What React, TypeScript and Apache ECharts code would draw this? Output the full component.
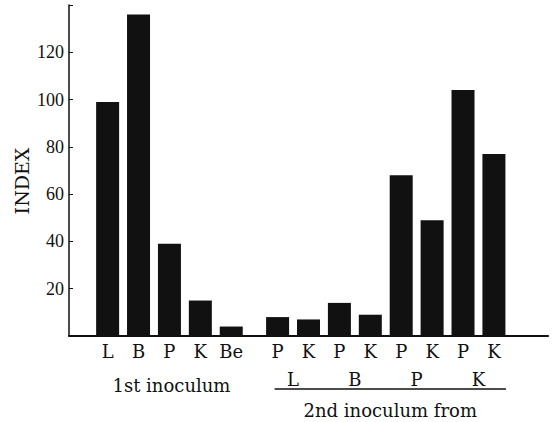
import React, { useEffect, useRef } from "react";
import * as echarts from "echarts";

// ---- data ----
const firstLabels = ["L", "B", "P", "K", "Be"];
const firstValues = [99, 136, 39, 15, 4];
const sourceGroups = ["L", "B", "P", "K"];
const pairLabels = ["P", "K"];
const secondValues = [
  [8, 7],
  [14, 9],
  [68, 49],
  [104, 77],
];
const yTickLabels = [20, 40, 60, 80, 100, 120];
const yMax = 140;
const yStep = 20;
const firstTitle = "1st inoculum";
const secondTitle = "2nd inoculum from";
const yTitle = "INDEX";

// ---- slot layout (half-step slots) ----
const SLOTS = 31;
const FIRST_START = 2;
const SECOND_START = 13;
const STEP = 2;

const FONT = "DejaVu Serif";
const TICK_FONT = "Liberation Serif";
const INK = "#111111";

export default function App() {
  const ref = useRef<HTMLDivElement>(null);

  useEffect(() => {
    if (!ref.current) return;
    const chart = echarts.init(ref.current, undefined, { renderer: "svg" });

    const keys: string[] = [];
    const labels: string[] = [];
    const vals: (number | string)[] = [];
    for (let i = 0; i < SLOTS; i++) {
      keys.push("s" + i);
      labels.push("");
      vals.push("-");
    }
    const firstIdx: number[] = [];
    firstLabels.forEach((l, i) => {
      const idx = FIRST_START + i * STEP;
      labels[idx] = l;
      vals[idx] = firstValues[i];
      firstIdx.push(idx);
    });
    const groupIdx: number[][] = [];
    sourceGroups.forEach((g, gi) => {
      const pair: number[] = [];
      pairLabels.forEach((p, pi) => {
        const idx = SECOND_START + (gi * 2 + pi) * STEP;
        labels[idx] = p;
        vals[idx] = secondValues[gi][pi];
        pair.push(idx);
      });
      groupIdx.push(pair);
    });

    chart.setOption({
      animation: false,
      textStyle: { fontFamily: FONT },
      grid: { left: 69, right: 8, top: 5, bottom: 86, containLabel: false },
      xAxis: {
        type: "category",
        data: keys,
        boundaryGap: true,
        axisLine: { show: true, lineStyle: { color: INK, width: 2 } },
        axisTick: { show: false },
        axisLabel: {
          interval: 0,
          margin: 6,
          color: INK,
          fontFamily: FONT,
          fontSize: 18,
          formatter: (_v: string, i: number) => labels[i],
        },
        splitLine: { show: false },
      },
      yAxis: {
        type: "value",
        min: 0,
        max: yMax,
        interval: yStep,
        axisLine: { show: true, lineStyle: { color: INK, width: 1.5 } },
        axisTick: { show: true, inside: true, length: 4, lineStyle: { color: INK } },
        axisLabel: {
          margin: 5,
          color: INK,
          fontFamily: TICK_FONT,
          fontSize: 18,
          formatter: (v: number) => (yTickLabels.indexOf(v) >= 0 ? String(v) : ""),
        },
        splitLine: { show: false },
      },
      series: [
        {
          type: "bar",
          data: vals,
          barWidth: 23,
          itemStyle: { color: INK },
        },
      ],
    });

    const px = (idx: number) =>
      chart.convertToPixel({ xAxisIndex: 0 }, "s" + idx) as unknown as number;

    const firstCenter = (px(firstIdx[0]) + px(firstIdx[firstIdx.length - 1])) / 2;
    const lineX1 = px(groupIdx[0][0]) - 3;
    const lineX2 = px(groupIdx[groupIdx.length - 1][1]) + 12;
    const secondCenter = (lineX1 + lineX2) / 2;

    const txt = (text: string, x: number, y: number, size: number, family = FONT, rotation = 0) => ({
      type: "text",
      x,
      y,
      rotation,
      style: {
        text,
        fill: INK,
        fontFamily: family,
        fontSize: size,
        textAlign: "center",
        textVerticalAlign: "middle",
      },
    });

    const graphics: any[] = [
      txt(yTitle, 22, 181, 19, FONT, Math.PI / 2),
      txt(firstTitle, firstCenter + 2, 385, 18),
      {
        type: "line",
        shape: { x1: lineX1, y1: 389, x2: lineX2, y2: 389 },
        style: { stroke: INK, lineWidth: 1.5 },
      },
      txt(secondTitle, secondCenter, 410, 18),
    ];
    groupIdx.forEach((pair, gi) => {
      graphics.push(txt(sourceGroups[gi], (px(pair[0]) + px(pair[1])) / 2, 379, 18));
    });
    chart.setOption({ graphic: graphics });

    return () => chart.dispose();
  }, []);

  return <div ref={ref} style={{ width: 556, height: 422, position: "absolute", left: 0, top: 0 }} />;
}
